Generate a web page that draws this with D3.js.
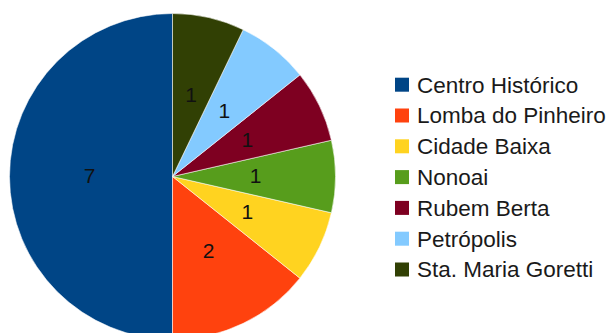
<!DOCTYPE html>
<html>
<head>
<meta charset="utf-8">
<script src="https://cdn.jsdelivr.net/npm/d3@7"></script>
<style>
  html, body { margin: 0; padding: 0; background: #fff; }
  svg { display: block; }
</style>
</head>
<body>
<svg id="chart" width="609" height="333"></svg>
<script>
// Neighbourhoods and their counts
const categories = ["Centro Histórico", "Lomba do Pinheiro", "Cidade Baixa", "Nonoai", "Rubem Berta", "Petrópolis", "Sta. Maria Goretti"];
const values = [7, 2, 1, 1, 1, 1, 1];
const colors = ["#004586", "#ff420e", "#ffd320", "#579d1c", "#7e0021", "#83caff", "#314004"];

const svg = d3.select("#chart");

const cx = 172.5, cy = 176.5, radius = 163;
const labelRadius = 83;

const data = categories.map((c, i) => ({ name: c, value: values[i] }));

const color = d3.scaleOrdinal().domain(categories).range(colors);

// Slices run counter-clockwise from 12 o'clock
const pie = d3.pie()
  .sort(null)
  .value(d => d.value)
  .startAngle(0)
  .endAngle(-2 * Math.PI);

const arcs = pie(data);

const arc = d3.arc().innerRadius(0).outerRadius(radius);
const labelArc = d3.arc().innerRadius(labelRadius).outerRadius(labelRadius);

const g = svg.append("g").attr("transform", `translate(${cx},${cy})`);

g.selectAll("path.slice")
  .data(arcs)
  .join("path")
  .attr("class", "slice")
  .attr("d", arc)
  .attr("fill", d => color(d.data.name))
  .attr("stroke", "rgba(255,255,255,0.55)")
  .attr("stroke-width", 1);

g.selectAll("text.value")
  .data(arcs)
  .join("text")
  .attr("class", "value")
  .attr("transform", d => `translate(${labelArc.centroid(d)})`)
  .attr("text-anchor", "middle")
  .attr("dy", "0.32em")
  .attr("font-family", "'Liberation Sans', Arial, sans-serif")
  .attr("font-size", 21)
  .attr("fill", "#111")
  .text(d => d.data.value);

// Legend
const legend = svg.append("g").attr("transform", "translate(395,84.7)");
const rowH = 30.8;

const rows = legend.selectAll("g.row")
  .data(categories)
  .join("g")
  .attr("class", "row")
  .attr("transform", (d, i) => `translate(0,${i * rowH})`);

rows.append("rect")
  .attr("x", 0)
  .attr("y", -7)
  .attr("width", 14)
  .attr("height", 14)
  .attr("fill", d => color(d));

rows.append("text")
  .attr("x", 22)
  .attr("y", 0)
  .attr("dy", "0.35em")
  .attr("font-family", "'Liberation Sans', Arial, sans-serif")
  .attr("font-size", 22.5)
  .attr("fill", "#1a1a1a")
  .text(d => d);
</script>
</body>
</html>
